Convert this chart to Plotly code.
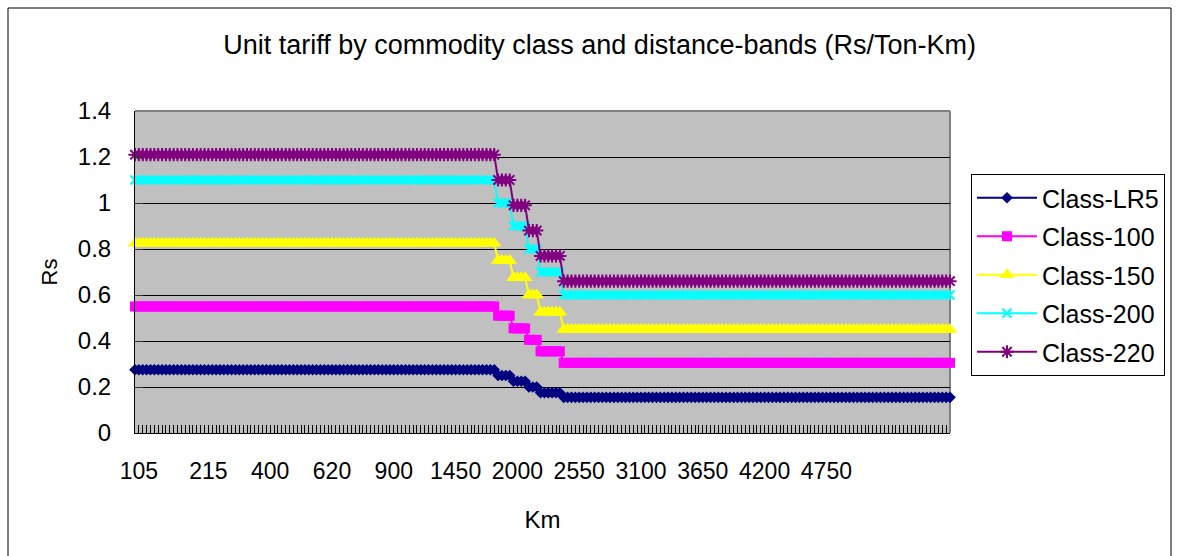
import plotly.graph_objects as go

# Distance-band tick labels (Km) and the band index each one sits on
km_labels = ["105", "215", "400", "620", "900", "1450",
             "2000", "2550", "3100", "3650", "4200", "4750"]
km_label_band = [1, 19, 35, 51, 67, 83, 99, 115, 131, 147, 163, 179]

# Number of consecutive distance bands charged at each rate level
band_points = [94, 4, 4, 3, 6, 101]

# Unit tariff (Rs/Ton-Km) at each rate level, per commodity class
class_lr5 = [0.275, 0.25, 0.225, 0.20, 0.175, 0.155]
class_100 = [0.55, 0.51, 0.455, 0.405, 0.355, 0.305]
class_150 = [0.825, 0.75, 0.675, 0.60, 0.525, 0.45]
class_200 = [1.10, 1.00, 0.90, 0.80, 0.70, 0.60]
class_220 = [1.21, 1.10, 0.99, 0.88, 0.77, 0.66]

series = [
    ("Class-LR5", class_lr5, "#000080", "diamond", 9),
    ("Class-100", class_100, "#FF00FF", "square", 10),
    ("Class-150", class_150, "#FFFF00", "triangle-up", 13),
    ("Class-200", class_200, "#00FFFF", "x-thin-open", 9),
    ("Class-220", class_220, "#800080", "asterisk-open", 11),
]


def per_band(levels):
    out = []
    for v, n in zip(levels, band_points):
        out.extend([v] * n)
    return out


n_bands = sum(band_points)
band_idx = list(range(n_bands))

FONT = "Liberation Sans, Arial, sans-serif"

fig = go.Figure()
for i, (name, levels, color, symbol, size) in enumerate(series):
    fig.add_trace(go.Scatter(
        x=band_idx,
        y=per_band(levels),
        mode="lines+markers",
        name=name,
        legendgroup=f"g{i}",
        line=dict(color=color, width=2),
        marker=dict(symbol=symbol, size=size, color=color,
                    line=dict(color=color, width=2 if "open" in symbol else 0)),
        cliponaxis=False,
    ))

W, H = 1178, 556
L, R, T, B = 135, 228, 111, 123
pw, ph = W - L - R, H - T - B


def px_x(x):
    return (x - L) / pw


def px_y(y):
    return (H - B - y) / ph


fig.update_layout(
    width=W, height=H,
    margin=dict(l=L, r=R, t=T, b=B, autoexpand=False),
    paper_bgcolor="white",
    plot_bgcolor="#C0C0C0",
    font=dict(family=FONT, color="black", size=22),
    title=dict(
        text="Unit tariff by commodity class and distance-bands (Rs/Ton-Km)",
        font=dict(size=27),
        x=0.509, xref="container", xanchor="center",
        y=1 - 45 / H, yref="container", yanchor="middle",
    ),
    xaxis=dict(
        range=[0, n_bands - 1],
        tickmode="array",
        tickvals=km_label_band,
        ticktext=km_labels,
        ticks="inside", ticklen=8, tickcolor="black", tickwidth=1,
        minor=dict(tickmode="linear", tick0=0, dtick=1, ticks="inside",
                   ticklen=8, tickcolor="black", tickwidth=1, showgrid=False),
        showgrid=False, zeroline=False,
        showline=True, linecolor="black", linewidth=1,
        ticklabelstandoff=17,
        tickfont=dict(size=23),
        title=dict(text="Km", font=dict(size=24), standoff=28),
    ),
    yaxis=dict(
        range=[0, 1.4], dtick=0.2, tick0=0,
        ticks="inside", ticklen=8, tickcolor="#333333",
        showgrid=True, gridcolor="black", gridwidth=1,
        zeroline=False,
        showline=True, linecolor="black", linewidth=1,
        ticklabelstandoff=18,
        tickfont=dict(size=24),
        title=dict(text="Rs", font=dict(size=22), standoff=14),
    ),
    legend=dict(
        x=px_x(971), xanchor="left",
        y=px_y(174), yanchor="top",
        bgcolor="white", bordercolor="black", borderwidth=1,
        font=dict(size=25),
        tracegroupgap=3,
        itemwidth=60,
    ),
    shapes=[
        # plot-area frame (top and right edges)
        dict(type="line", xref="paper", yref="paper", x0=0, x1=1, y0=1, y1=1,
             line=dict(color="#808080", width=2), layer="below"),
        dict(type="line", xref="paper", yref="paper", x0=1, x1=1, y0=0, y1=1,
             line=dict(color="#808080", width=2), layer="below"),
        # chart-area border
        dict(type="rect", xref="paper", yref="paper",
             x0=px_x(8), x1=px_x(1171), y0=px_y(570), y1=px_y(8),
             line=dict(color="black", width=1), fillcolor="rgba(0,0,0,0)",
             layer="above"),
    ],
)

fig.write_html("out.html")
